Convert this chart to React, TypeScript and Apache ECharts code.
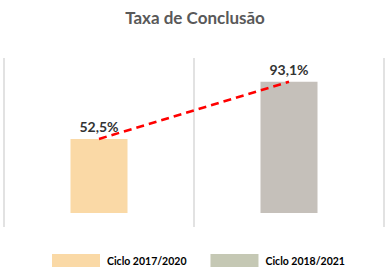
import React, { useEffect, useRef } from "react";
import * as echarts from "echarts";

const categories = ["Ciclo 2017/2020", "Ciclo 2018/2021"];
const seriesNames = ["Ciclo 2017/2020", "Ciclo 2018/2021"];
const values = [52.5, 93.1];
const barColors = ["#fad9a6", "#c5c0ba"];
const legendColors = ["#fad9a6", "#c5c8b4"];

export default function App() {
  const ref = useRef<HTMLDivElement>(null);
  useEffect(() => {
    if (!ref.current) return;
    document.body.style.margin = "0";
    const chart = echarts.init(ref.current, undefined, { renderer: "svg" });
    const fmt = (v: number) => v.toFixed(1).replace(".", ",") + "%";
    chart.setOption({
      animation: false,
      title: {
        text: "Taxa de Conclusão",
        left: "center",
        top: 9,
        padding: 0,
        textStyle: { fontFamily: "Lato", fontWeight: "bold", fontSize: 17, color: "#595959" },
      },
      legend: {
        left: 52,
        top: 254,
        padding: 0,
        itemWidth: 48,
        itemHeight: 13,
        itemGap: 24,
        icon: "rect",
        data: seriesNames.map((n, i) => ({ name: n, itemStyle: { color: legendColors[i] } })),
        textStyle: { fontFamily: "Lato", fontWeight: "bold", fontSize: 10.5, color: "#000", padding: [0, 0, 0, 2] },
      },
      grid: { left: 4, right: 6, top: 58, bottom: 53 },
      xAxis: {
        type: "category",
        data: categories,
        axisLine: { show: false },
        axisTick: { show: false },
        axisLabel: { show: false },
        splitLine: { show: true, lineStyle: { color: "#d9d9d9", width: 1.5 } },
      },
      yAxis: {
        type: "value",
        min: -10,
        max: 110,
        show: false,
        splitLine: { show: false },
      },
      series: [
        ...seriesNames.map((n, i) => ({
          name: n,
          type: "bar",
          stack: "s",
          barWidth: 57,
          data: values.map((v, j) => (j === i ? v : "-")),
          itemStyle: { color: barColors[i] },
          label: {
            show: true,
            position: "top",
            distance: 5,
            formatter: (p: any) => fmt(p.value),
            fontFamily: "Lato",
            fontWeight: "bold",
            fontSize: 14,
            color: "#333333",
          },
        })),
        {
          name: "trend",
          type: "line",
          data: values,
          symbol: "none",
          z: 5,
          lineStyle: { color: "#ff0000", width: 2.5, type: [8, 5] },
        },
      ],
    });
    return () => chart.dispose();
  }, []);
  return <div ref={ref} style={{ width: 390, height: 280 }} />;
}
